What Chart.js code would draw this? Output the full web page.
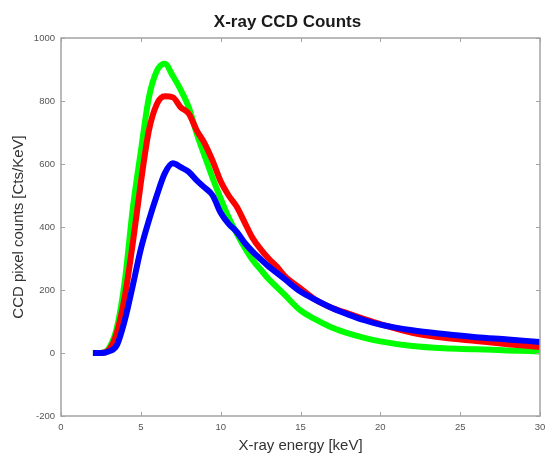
<!DOCTYPE html>
<html>
<head>
<meta charset="utf-8">
<script src="https://cdn.jsdelivr.net/npm/chart.js@4/dist/chart.umd.min.js"></script>
<style>
html,body{margin:0;padding:0;background:#fff;}
#wrap{width:546px;height:453px;position:relative;}
</style>
</head>
<body>
<div id="wrap"><canvas id="c" width="546" height="453"></canvas></div>
<script>
const TITLE = "X-ray CCD Counts";
const X_LABEL = "X-ray energy [keV]";
const Y_LABEL = "CCD pixel counts [Cts/KeV]";
const X_TICKS = [0, 5, 10, 15, 20, 25, 30];
const Y_TICKS = [-200, 0, 200, 400, 600, 800, 1000];

const energy = [2.0, 2.5, 3.0, 3.5, 4.0, 4.5, 5.0, 5.5, 6.0, 6.5, 7.0, 7.5, 8.0, 8.5, 9.0, 9.5, 10.0, 10.5, 11.0, 11.5, 12.0, 12.5, 13.0, 13.5, 14.0, 15.0, 16.0, 17.0, 18.0, 19.0, 20.0, 22.0, 24.0, 26.0, 28.0, 30.0];
const green = [0, 0, 15, 80, 230, 460, 640, 810, 895, 918, 880, 835, 780, 697, 625, 555, 490, 430, 380, 335, 295, 265, 235, 210, 185, 135, 105, 80, 62, 48, 37, 22, 15, 12, 8, 5];
const red   = [0, 0, 10, 65, 180, 350, 540, 705, 790, 815, 812, 780, 760, 707, 665, 610, 545, 500, 465, 415, 365, 330, 300, 275, 245, 205, 167, 143, 125, 108, 92, 64, 48, 38, 28, 19];
const blue  = [0, 0, 5, 25, 105, 215, 330, 420, 500, 570, 602, 590, 575, 548, 525, 500, 445, 410, 385, 350, 322, 298, 275, 255, 235, 195, 167, 142, 122, 104, 90, 72, 60, 50, 43, 35];

const pts = arr => arr.map((v, i) => ({x: energy[i], y: v}));

const frame = {
  id: 'frame',
  afterDatasetsDraw(chart) {
    const {ctx, chartArea: {left, right, top, bottom}, scales: {x, y}} = chart;
    ctx.save();
    ctx.strokeStyle = '#a3a3a3';
    ctx.lineWidth = 1.5;
    ctx.strokeRect(left, top, right - left, bottom - top);
    ctx.beginPath();
    ctx.lineWidth = 1;
    X_TICKS.forEach(t => {
      const px = Math.round(x.getPixelForValue(t)) + 0.5;
      ctx.moveTo(px, bottom); ctx.lineTo(px, bottom - 4);
      ctx.moveTo(px, top); ctx.lineTo(px, top + 4);
    });
    Y_TICKS.forEach(t => {
      const py = Math.round(y.getPixelForValue(t)) + 0.5;
      ctx.moveTo(left, py); ctx.lineTo(left + 4, py);
      ctx.moveTo(right, py); ctx.lineTo(right - 4, py);
    });
    ctx.stroke();
    ctx.fillStyle = '#1a1a1a';
    ctx.font = 'bold 17px "Liberation Sans", Arial, sans-serif';
    ctx.textAlign = 'center';
    ctx.textBaseline = 'middle';
    ctx.fillText(TITLE, (left + right) / 2 - 13, 22);
    ctx.restore();
  }
};

new Chart(document.getElementById('c'), {
  type: 'line',
  data: {
    datasets: [
      {label: 'blue', data: pts(blue), borderColor: '#0000ff', borderWidth: 6, pointRadius: 0, cubicInterpolationMode: 'monotone', fill: false},
      {label: 'red', data: pts(red), borderColor: '#ff0000', borderWidth: 6, pointRadius: 0, cubicInterpolationMode: 'monotone', fill: false},
      {label: 'green', data: pts(green), borderColor: '#00ff00', borderWidth: 6, pointRadius: 0, cubicInterpolationMode: 'monotone', fill: false}
    ]
  },
  options: {
    responsive: false,
    animation: false,
    layout: {padding: {top: 38, right: 6, left: 0, bottom: 0}},
    plugins: {legend: {display: false}, tooltip: {enabled: false}, title: {display: false}},
    scales: {
      x: {
        type: 'linear', min: 0, max: 30,
        afterBuildTicks: s => { s.ticks = X_TICKS.map(v => ({value: v})); },
        afterFit: s => { s.height = 37; s.paddingLeft = 0; s.paddingRight = 0; },
        grid: {display: false, drawTicks: false},
        border: {display: false},
        ticks: {padding: 6, color: '#555', callback: v => String(v), font: {family: '"Liberation Sans", Arial, sans-serif', size: 9.5}, maxRotation: 0},
        title: {display: true, text: X_LABEL, color: '#333', padding: {top: 0, bottom: 0}, font: {family: '"Liberation Sans", Arial, sans-serif', size: 15, lineHeight: 1}}
      },
      y: {
        type: 'linear', min: -200, max: 1000,
        afterBuildTicks: s => { s.ticks = Y_TICKS.map(v => ({value: v})); },
        afterFit: s => { s.width = 61; s.paddingTop = 0; s.paddingBottom = 0; },
        grid: {display: false, drawTicks: false},
        border: {display: false},
        ticks: {padding: 6, color: '#555', callback: v => String(v), font: {family: '"Liberation Sans", Arial, sans-serif', size: 9.5}},
        title: {display: true, text: Y_LABEL, color: '#333', padding: {top: 11.5, bottom: 0}, font: {family: '"Liberation Sans", Arial, sans-serif', size: 15, lineHeight: 1}}
      }
    }
  },
  plugins: [frame]
});
</script>
</body>
</html>
